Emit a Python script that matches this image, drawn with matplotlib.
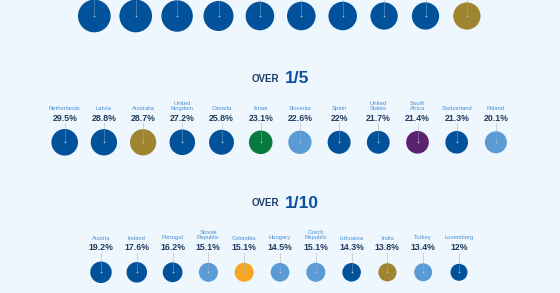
import matplotlib.pyplot as plt
from matplotlib.patches import Circle
import numpy as np

# top row (cut off in the source, labels not visible)
top_values = [44.5, 44.4, 41.2, 37.6, 34.1, 34.0, 33.9, 31.0, 30.9, 30.8]
top_groups = ["west"] * 9 + ["asia_pacific"]

fifth_names = ["Netherlands", "Latvia", "Australia", "United\nKingdom", "Canada", "Israel",
               "Slovenia", "Spain", "United\nStates", "South\nAfrica", "Switzerland", "Poland"]
fifth_values = [29.5, 28.8, 28.7, 27.2, 25.8, 23.1, 22.6, 22.0, 21.7, 21.4, 21.3, 20.1]
fifth_labels = ["29.5%", "28.8%", "28.7%", "27.2%", "25.8%", "23.1%",
                "22.6%", "22%", "21.7%", "21.4%", "21.3%", "20.1%"]
fifth_groups = ["west", "west", "asia_pacific", "west", "west", "middle_east",
                "central_east", "west", "west", "africa", "west", "central_east"]

tenth_names = ["Austria", "Ireland", "Portugal", "Slovak\nRepublic", "Colombia", "Hungary",
               "Czech\nRepublic", "Lithuania", "India", "Turkey", "Luxemborg"]
tenth_values = [19.2, 17.6, 16.2, 15.1, 15.1, 14.5, 15.1, 14.3, 13.8, 13.4, 12.0]
tenth_labels = ["19.2%", "17.6%", "16.2%", "15.1%", "15.1%", "14.5%",
                "15.1%", "14.3%", "13.8%", "13.4%", "12%"]
tenth_groups = ["west", "west", "west", "central_east", "latin_america", "central_east",
                "central_east", "west", "asia_pacific", "central_east", "west"]

COLORS = {
    "west": "#01529b",
    "central_east": "#5b9bd5",
    "asia_pacific": "#a08531",
    "middle_east": "#077a3e",
    "africa": "#5b2270",
    "latin_america": "#f7a622",
}
BG = "#eef7fd"
NAME_C = "#4a8fd4"
VALUE_C = "#1f3a5c"
OVER_C = "#1f3a66"
FRAC_C = "#0d4f9f"
LINE_C = "#c3ccd6"
K = 2.45  # radius per sqrt(percent)

plt.rcParams["font.family"] = ["Liberation Sans", "DejaVu Sans"]

fig = plt.figure(figsize=(5.6, 2.93), dpi=100, facecolor=BG)
ax = fig.add_axes([0, 0, 1, 1])
ax.set_facecolor(BG)
ax.set_xlim(0, 560)
ax.set_ylim(293, 0)
ax.axis("off")


def draw_row(values, groups, x0, step, cy, line_top, names=None, labels=None, name_y=None):
    xs = x0 + step * np.arange(len(values))
    for i, (x, v) in enumerate(zip(xs, values)):
        ax.plot([x, x], [line_top, cy], color=LINE_C, lw=0.6, zorder=1)
        ax.add_patch(Circle((x, cy), K * np.sqrt(v), color=COLORS[groups[i]], zorder=2, lw=0))
        ax.plot([x, x], [cy - K * np.sqrt(v), cy], color="#8fb0d0", lw=0.5, alpha=0.6, zorder=3)
        ax.plot(x, cy, "o", ms=1.2, color="#b9c3cc", mec="none", zorder=4)
        if names is not None:
            ax.text(x, name_y + 2.5, names[i], ha="center", va="bottom", fontsize=4.2,
                    color=NAME_C, linespacing=1.05)
            ax.text(x, name_y + 9.5, labels[i], ha="center", va="center", fontsize=6.3,
                    color=VALUE_C, fontweight="bold")


def header(y, frac):
    ax.text(279, y, "OVER", ha="right", va="center", fontsize=7.0, fontweight="bold",
            color=OVER_C)
    ax.text(285, y, frac, ha="left", va="center", fontsize=12.5, fontweight="bold",
            color=FRAC_C)


draw_row(top_values, top_groups, 94.3, 41.4, 16, 0)

header(78.5, "1/5")
draw_row(fifth_values, fifth_groups, 64.7, 39.2, 142.3, 123,
         fifth_names, fifth_labels, 108.7)

header(203, "1/10")
draw_row(tenth_values, tenth_groups, 101, 35.8, 272.3, 253,
         tenth_names, tenth_labels, 238)

fig.savefig("out.png", dpi=100, facecolor=BG)
